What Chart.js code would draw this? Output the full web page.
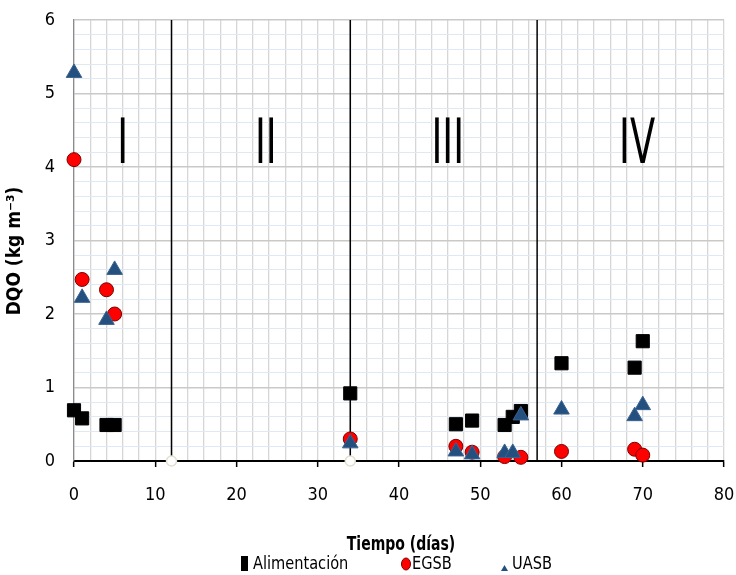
<!DOCTYPE html>
<html><head><meta charset="utf-8">
<script src="https://cdn.jsdelivr.net/npm/chart.js@4/dist/chart.umd.min.js"></script>
<style>html,body{margin:0;padding:0;background:#fff}#wrap{width:736px;height:575px}</style>
</head><body><div id="wrap"><canvas id="c" width="736" height="575"></canvas></div>
<script>
const FONT = '"DejaVu Sans Condensed","Liberation Sans",sans-serif';

// DQO measurements (kg m-3) over time (days)
const alimX = [0, 1, 4, 5, 34, 47, 49, 53, 54, 55, 60, 69, 70];
const alimY = [0.69, 0.58, 0.49, 0.49, 0.92, 0.50, 0.55, 0.49, 0.60, 0.68, 1.33, 1.27, 1.63];
const egsbX = [0, 1, 4, 5, 34, 47, 49, 53, 55, 60, 69, 70];
const egsbY = [4.10, 2.47, 2.33, 2.00, 0.30, 0.20, 0.12, 0.06, 0.05, 0.13, 0.16, 0.08];
const uasbX = [0, 1, 4, 5, 34, 47, 49, 53, 54, 55, 60, 69, 70];
const uasbY = [5.28, 2.22, 1.92, 2.60, 0.24, 0.13, 0.09, 0.11, 0.11, 0.62, 0.70, 0.61, 0.76];

// Phase boundaries and phase names
const dividerX = [12, 34, 57];
const dividerMarker = [true, true, false];
const phaseLabels = ['I', 'II', 'III', 'IV'];
const phaseX = [6, 23.6, 46, 69.3];
const phaseY = 4.05;

// Axis labels
const xTickLabels = [0, 10, 20, 30, 40, 50, 60, 70, 80];
const yTickLabels = [0, 1, 2, 3, 4, 5, 6];

const pts = (xs, ys) => xs.map((x, i) => ({ x, y: ys[i] }));

const dividerSets = dividerX.map((x, i) => ({
  label: 'div' + i,
  type: 'line',
  data: [{ x, y: 0 }, { x, y: 6 }],
  borderColor: '#000',
  borderWidth: 1.5,
  pointRadius: [dividerMarker[i] ? 5 : 0, 0],
  pointBackgroundColor: '#fff',
  pointBorderColor: '#e2ded0',
  pointBorderWidth: 1.5,
  showLine: true,
  clip: false,
  order: 4
}));

// narrow text helper: draws text squeezed horizontally
function narrowText(ctx, text, x, y, sx) {
  ctx.save();
  ctx.translate(x, y);
  ctx.scale(sx, 1);
  ctx.fillText(text, 0, 0);
  ctx.restore();
}

const overlay = {
  id: 'overlay',
  afterDatasetsDraw(chart) {
    const { ctx, scales: { x, y } } = chart;
    ctx.save();
    ctx.fillStyle = '#000';
    ctx.font = '62px ' + FONT;
    ctx.textAlign = 'center';
    ctx.textBaseline = 'alphabetic';
    phaseLabels.forEach((t, i) => narrowText(ctx, t, x.getPixelForValue(phaseX[i]), y.getPixelForValue(phaseY), 0.66));
    ctx.restore();
  },
  afterDraw(chart) {
    const { ctx } = chart;
    ctx.save();
    ctx.fillStyle = '#000';
    // y title
    ctx.save();
    ctx.translate(15, 251);
    ctx.rotate(-Math.PI / 2);
    ctx.font = 'bold 19px ' + FONT;
    ctx.textAlign = 'center';
    ctx.textBaseline = 'middle';
    ctx.fillText('DQO (kg m⁻³)', 0, 0);
    ctx.restore();
    // x title
    ctx.font = 'bold 19px ' + FONT;
    ctx.textAlign = 'center';
    ctx.textBaseline = 'middle';
    narrowText(ctx, 'Tiempo (días)', 401, 545, 0.82);
    // legend
    ctx.font = '18px ' + FONT;
    ctx.textAlign = 'left';
    ctx.fillRect(241, 556, 7, 15);
    narrowText(ctx, 'Alimentación', 253, 564, 0.9);
    ctx.beginPath();
    ctx.ellipse(406, 564, 4.5, 6, 0, 0, Math.PI * 2);
    ctx.fillStyle = '#ff0000';
    ctx.fill();
    ctx.strokeStyle = '#7a0000';
    ctx.lineWidth = 1;
    ctx.stroke();
    ctx.fillStyle = '#000';
    narrowText(ctx, 'EGSB', 412, 564, 0.9);
    ctx.beginPath();
    ctx.moveTo(504.5, 565);
    ctx.lineTo(508, 571);
    ctx.lineTo(501, 571);
    ctx.closePath();
    ctx.fillStyle = '#24507f';
    ctx.fill();
    ctx.fillStyle = '#000';
    narrowText(ctx, 'UASB', 512, 564, 0.9);
    ctx.restore();
  }
};

new Chart(document.getElementById('c'), {
  type: 'scatter',
  data: {
    datasets: [
      {
        label: 'UASB',
        data: pts(uasbX, uasbY),
        pointStyle: 'triangle',
        pointRadius: 9,
        backgroundColor: '#24507f',
        borderColor: '#3b6290',
        borderWidth: 1,
        clip: false,
        order: 1
      },
      {
        label: 'EGSB',
        data: pts(egsbX, egsbY),
        pointStyle: 'circle',
        pointRadius: 7,
        backgroundColor: '#ff0000',
        borderColor: '#7a0000',
        borderWidth: 1,
        clip: false,
        order: 2
      },
      {
        label: 'Alimentación',
        data: pts(alimX, alimY),
        pointStyle: 'rect',
        pointRadius: 9.3,
        backgroundColor: '#000',
        borderColor: '#000',
        borderWidth: 1,
        clip: false,
        order: 3
      },
      ...dividerSets
    ]
  },
  options: {
    responsive: false,
    animation: false,
    devicePixelRatio: 1,
    layout: { padding: { top: 20, right: 12, left: 0, bottom: 0 } },
    plugins: { legend: { display: false }, tooltip: { enabled: false } },
    scales: {
      x: {
        type: 'linear', min: 0, max: 80,
        afterFit: s => { s.height = 114; s.paddingLeft = 0; s.paddingRight = 0; },
        border: { color: '#000', width: 2 },
        grid: {
          color: '#d6d6d6',
          lineWidth: 1.3,
          drawTicks: true,
          tickLength: 6,
          tickColor: c => (xTickLabels.includes(c.tick.value) ? '#000' : 'rgba(0,0,0,0)'),
          tickWidth: 1.5
        },
        ticks: {
          stepSize: 2, autoSkip: false, maxRotation: 0, padding: 18,
          color: '#000', font: { family: FONT, size: 18 },
          callback: v => (xTickLabels.includes(v) ? String(v) : '')
        }
      },
      y: {
        type: 'linear', min: 0, max: 6,
        afterFit: s => { s.width = 74; s.paddingTop = 0; s.paddingBottom = 0; },
        border: { color: '#8c8c8c', width: 1.3 },
        grid: {
          color: c => (yTickLabels.includes(c.tick.value) ? '#c9c9c9' : '#dfe9f4'),
          lineWidth: c => (yTickLabels.includes(c.tick.value) ? 1.6 : 1),
          drawTicks: false,
          tickLength: 0
        },
        ticks: {
          stepSize: 0.2, autoSkip: false, padding: 19,
          color: '#000', font: { family: FONT, size: 18 },
          callback: v => (yTickLabels.includes(v) ? String(v) : '')
        }
      }
    }
  },
  plugins: [overlay]
});
</script>
</body></html>
